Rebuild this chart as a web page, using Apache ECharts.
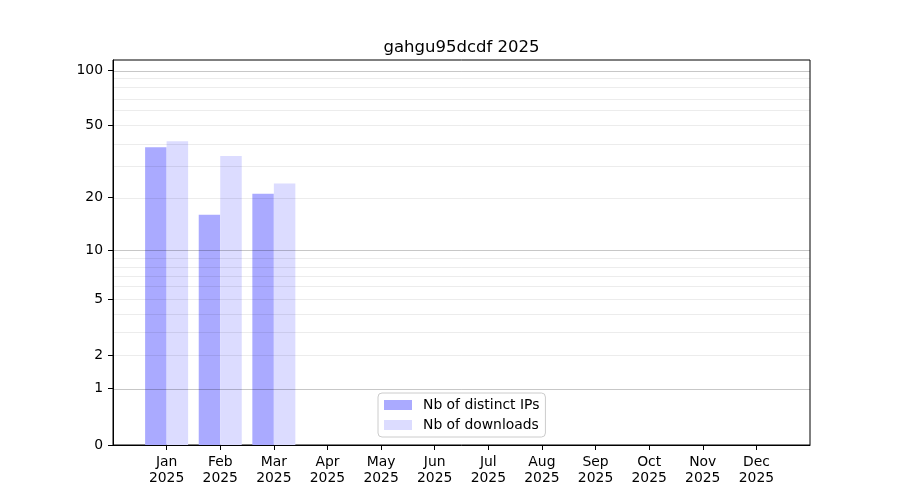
<!DOCTYPE html>
<html>
<head>
<meta charset="utf-8">
<script src="https://cdn.jsdelivr.net/npm/echarts@6/dist/echarts.min.js"></script>
<style>html,body{margin:0;padding:0;background:#fff}#c{width:900px;height:500px}</style>
</head>
<body>
<div id="c"></div>
<script>
const titleText = 'gahgu95dcdf 2025';
const months = ['Jan','Feb','Mar','Apr','May','Jun','Jul','Aug','Sep','Oct','Nov','Dec'];
const yearLabel = '2025';
const seriesNames = ['Nb of distinct IPs', 'Nb of downloads'];
const distinctIPs = [38, 16, 21];
const downloads = [41, 34, 24];
const yTickValues = [0, 1, 2, 5, 10, 20, 50, 100];
const majorGrid = [1, 10, 100];
const minorGrid = [2, 3, 4, 5, 6, 7, 8, 9, 20, 30, 40, 50, 60, 70, 80, 90];

const tf = v => Math.log10(1 + v);
const inv = t => Math.round(Math.pow(10, t) - 1);
const FONT = 'DejaVu Sans';

const chart = echarts.init(document.getElementById('c'), null, {renderer: 'canvas'});
const gridLines = [];
minorGrid.forEach(v => gridLines.push({yAxis: tf(v), lineStyle: {color: 'rgba(0,0,0,0.075)', width: 1, type: 'solid'}}));
majorGrid.forEach(v => gridLines.push({yAxis: tf(v), lineStyle: {color: 'rgba(0,0,0,0.22)', width: 1, type: 'solid'}}));

chart.setOption({
  animation: false,
  backgroundColor: '#fff',
  title: {
    text: titleText, left: 456.5, textAlign: 'center', top: 34,
    textStyle: {fontFamily: FONT, fontSize: 16.5, fontWeight: 'normal', color: '#000'}
  },
  legend: {
    orient: 'vertical', left: 378, top: 393,
    data: seriesNames,
    itemWidth: 28, itemHeight: 10, itemGap: 6,
    padding: [5, 6, 5, 6],
    borderColor: '#cccccc', borderWidth: 1, borderRadius: 4,
    backgroundColor: 'rgba(255,255,255,0.8)',
    icon: 'rect',
    textStyle: {fontFamily: FONT, fontSize: 13.9, color: '#000', padding: [0, 0, 0, 6]}
  },
  grid: {left: 113, top: 60, right: 90, bottom: 55, show: true, borderColor: '#000', borderWidth: 1, containLabel: false},
  xAxis: {
    type: 'value', min: -1, max: 12, interval: 1,
    splitLine: {show: false},
    axisLine: {show: true, onZero: false, lineStyle: {color: '#000', width: 1}},
    axisTick: {show: true, length: 5, customValues: months.map((m, i) => i), lineStyle: {color: '#000'}},
    axisLabel: {
      customValues: months.map((m, i) => i),
      formatter: v => months[Math.round(v)] + '\n' + yearLabel,
      fontFamily: FONT, fontSize: 13.9, color: '#000', lineHeight: 16, margin: 9
    }
  },
  yAxis: {
    type: 'value', min: 0, max: 2.0577,
    splitLine: {show: false},
    axisLine: {show: true, onZero: false, lineStyle: {color: '#000', width: 1}},
    axisTick: {show: true, length: 5, customValues: yTickValues.map(tf), lineStyle: {color: '#000'}},
    axisLabel: {
      customValues: yTickValues.map(tf),
      formatter: v => String(inv(v)),
      fontFamily: FONT, fontSize: 13.9, color: '#000', margin: 10
    }
  },
  series: [
    {
      name: seriesNames[0], type: 'bar', barWidth: 21.5, barGap: '0%',
      itemStyle: {color: '#aaaaff'},
      data: distinctIPs.map((v, i) => [i, tf(v)]),
      markLine: {silent: true, symbol: 'none', label: {show: false}, data: gridLines, animation: false}
    },
    {
      name: seriesNames[1], type: 'bar', barWidth: 21.5, barGap: '0%',
      itemStyle: {color: '#dcdcff'},
      data: downloads.map((v, i) => [i, tf(v)])
    }
  ]
});
</script>
</body>
</html>
